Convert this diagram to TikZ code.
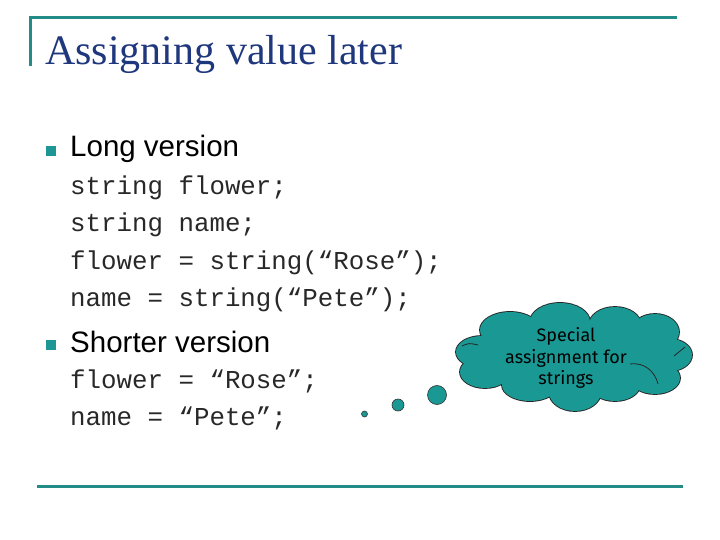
\documentclass[tikz,border=0pt]{standalone}
\usepackage{fontspec}
\setmainfont{Liberation Serif}
\newfontfamily\arialf{Liberation Sans}
\newfontfamily\courf{Liberation Mono}
\newfontfamily\comicf{Fira Sans}
\definecolor{tealline}{RGB}{35,140,135}
\definecolor{cloudfill}{RGB}{26,152,148}
\definecolor{titleblue}{RGB}{30,55,125}
\definecolor{bulletc}{RGB}{30,150,150}
\definecolor{codec}{RGB}{40,40,40}
\tikzset{
  rulestyle/.style={draw=tealline, line width=3pt},
  bulletbox/.style={fill=bulletc, minimum size=10pt, inner sep=0pt},
  headtext/.style={anchor=west, inner sep=0pt, font=\arialf\fontsize{29.5}{32}\selectfont},
  codeline/.style={anchor=west, inner sep=0pt, text=codec, font=\courf\fontsize{25.8}{28}\selectfont},
  bubble/.style={circle, fill=cloudfill, draw=black!80, line width=0.6pt, inner sep=0pt},
  curl/.style={draw=black!85, line width=0.8pt},
}
\begin{document}
\begin{tikzpicture}[x=1pt,y=-1pt]
\useasboundingbox[fill=white] (0,0) rectangle (720,540);
% title rules
\coordinate (tl) at (30,18);
\coordinate (tr) at (677,18);
\coordinate (tb) at (30,66);
\draw[rulestyle] (tb) -- (tl) -- (tr);
\node[anchor=base west, inner sep=0pt, text=titleblue, font=\fontsize{42}{46}\selectfont] (title) at (45,65) {Assigning value later};
% bottom rule
\coordinate (bl) at (37,486);
\coordinate (br) at (683,486);
\draw[rulestyle] (bl) -- (br);
% bullets
\node[bulletbox] (b1) at (51,151.5) {};
\node[headtext] (h1) at (70,149) {Long version};
\node[codeline] (c1) at (70,188) {string flower;};
\node[codeline] (c2) at (70,225) {string name;};
\node[codeline] (c3) at (70,263) {flower = string(“Rose”);};
\node[codeline] (c4) at (70,300) {name = string(“Pete”);};
\node[bulletbox] (b2) at (51,344.5) {};
\node[headtext] (h2) at (70,342) {Shorter version};
\node[codeline] (c5) at (70,381) {flower = “Rose”;};
\node[codeline] (c6) at (70,418) {name = “Pete”;};
% thought bubble
\node[bubble, minimum size=6pt] (d1) at (364.5,414) {};
\node[bubble, minimum size=12pt] (d2) at (398,405) {};
\node[bubble, minimum size=19pt] (d3) at (437,395) {};
% cloud: outline pass then fill pass
\def\puffs{482/352/26/16, 510/330/30/18, 560/322/30/19, 615/325/26/18, 655/332/24/18, 670/355/22/16, 655/378/25/16, 615/385/25/16, 575/392/26/19, 530/385/28/16, 485/372/25/16}
\foreach \px/\py/\rx/\ry in \puffs { \draw[draw=black!85, line width=1.8pt] (\px,\py) ellipse[x radius=\rx, y radius=\ry]; }
\foreach \px/\py/\rx/\ry in \puffs { \fill[cloudfill] (\px,\py) ellipse[x radius=\rx, y radius=\ry]; }
\fill[cloudfill] (575,358) ellipse[x radius=100, y radius=36];
% inner curl strokes
\draw[curl] (630,364) .. controls (645,362) and (655,372) .. (658,384);
\draw[curl] (674,356) .. controls (679,351) .. (685,347);
\draw[curl] (462,346) .. controls (469,343) .. (478,345);
\node[align=center, font=\comicf\fontsize{18}{21.5}\selectfont, text=black] (ct) at (566,358) {Special\\assignment for\\strings};
\end{tikzpicture}
\end{document}
